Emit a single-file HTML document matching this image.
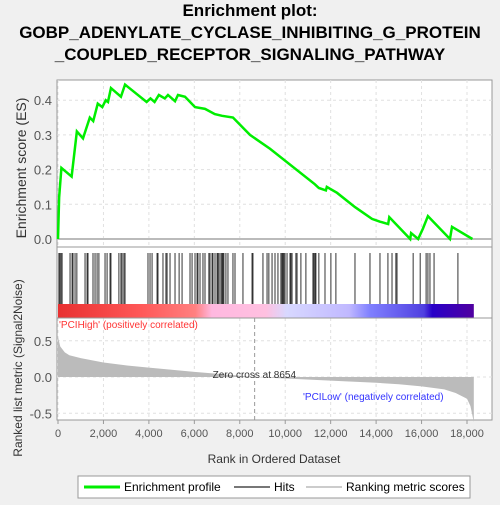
<!DOCTYPE html>
<html><head><meta charset="utf-8"><style>
body{margin:0;background:#f0f0f0;font-family:"Liberation Sans",sans-serif}
</style></head><body>
<svg width="500" height="500" xmlns="http://www.w3.org/2000/svg" font-family="Liberation Sans, sans-serif">
<rect width="500" height="500" fill="#f0f0f0"/>
<g font-weight="bold" font-size="17" text-anchor="middle" fill="#000">
<text x="250" y="16">Enrichment plot:</text>
<text x="250" y="38">GOBP_ADENYLATE_CYCLASE_INHIBITING_G_PROTEIN</text>
<text x="250" y="60">_COUPLED_RECEPTOR_SIGNALING_PATHWAY</text>
</g>
<rect x="57" y="80" width="435" height="340" fill="#fff" stroke="#999"/>
<g id="grid" stroke="#e0e0e0" stroke-dasharray="3,3"></g>
<g id="es"></g>
<line x1="57" y1="247" x2="492" y2="247" stroke="#999"/>
<g id="hits"></g>
<g id="bar"></g>
<line x1="57" y1="318" x2="492" y2="318" stroke="#999"/>
<g id="metric"></g>
<g id="axes" font-size="13" fill="#555"></g>
<text x="59" y="328" font-size="10" fill="#ff3333">'PCIHigh' (positively correlated)</text>
<text x="303" y="400" font-size="10" fill="#3333ff">'PCILow' (negatively correlated)</text>
<text x="26" y="168" font-size="14" fill="#333" text-anchor="middle" transform="rotate(-90 26 168)">Enrichment score (ES)</text>
<text x="22" y="368" font-size="12" fill="#333" text-anchor="middle" transform="rotate(-90 22 368)">Ranked list metric (Signal2Noise)</text>
<text x="274" y="463" font-size="12" fill="#333" text-anchor="middle">Rank in Ordered Dataset</text>
<g>
<rect x="78" y="476" width="392" height="22" fill="#fff" stroke="#999"/>
<line x1="84" y1="487" x2="120" y2="487" stroke="#00ee00" stroke-width="3"/>
<text x="124" y="491" font-size="12">Enrichment profile</text>
<line x1="234" y1="487" x2="270" y2="487" stroke="#777" stroke-width="2"/>
<text x="274" y="491" font-size="12">Hits</text>
<line x1="306" y1="487" x2="342" y2="487" stroke="#ccc" stroke-width="2"/>
<text x="346" y="491" font-size="12">Ranking metric scores</text>
</g>
</svg>
<script>
const esRanks=[0,50,150,600,830,1100,1400,1550,1750,1950,2100,2200,2330,2770,2950,3900,4070,4250,4440,4700,4840,5150,5280,5590,6030,6470,6900,7220,7700,8450,9330,11300,11480,11790,11830,12280,13070,13820,14170,14530,14580,15500,15540,15850,16060,16280,17250,17340,18240];
const esVals=[0,0.12,0.205,0.18,0.31,0.29,0.35,0.34,0.39,0.38,0.40,0.395,0.435,0.41,0.445,0.395,0.405,0.395,0.415,0.405,0.415,0.397,0.415,0.41,0.38,0.375,0.36,0.355,0.35,0.30,0.26,0.158,0.147,0.14,0.15,0.133,0.092,0.058,0.050,0.043,0.063,0.0,0.017,0.0,0.03,0.066,0.0,0.035,0.0];
const hitRanks=[40,80,130,180,530,620,660,750,830,1190,1280,1320,1540,1630,1720,1800,2070,2160,2290,2330,2680,2770,2820,2900,2950,3960,4050,4140,4360,4400,4620,4750,4800,4930,5150,5330,5460,5810,5900,6030,6120,6160,6250,6380,6470,6640,6690,6780,6820,6910,7000,7040,7090,7170,7220,7260,7300,7390,7480,7700,7790,8140,8540,8580,9020,9200,9280,9420,9550,9680,9810,9860,9900,9940,9990,10080,10210,10250,10300,10470,10520,10690,10910,11220,11260,11310,11350,11480,11750,12010,12230,13070,13730,14170,14520,14700,14870,14920,15630,15940,16200,16280,16370,16550,17600];
const metricRanks=[0,100,300,500,1000,2000,3000,4000,5000,6000,7000,8654,10000,12000,14000,15000,16000,17000,17500,18000,18150,18300];
const metricVals=[0.55,0.42,0.34,0.3,0.26,0.2,0.16,0.13,0.1,0.07,0.045,0,-0.02,-0.05,-0.08,-0.1,-0.13,-0.17,-0.22,-0.3,-0.4,-0.62];
const esTicks=[0,0.1,0.2,0.3,0.4];
const metricTicks=[0.5,0,-0.5];
const xTicks=[0,2000,4000,6000,8000,10000,12000,14000,16000,18000];
const NS='http://www.w3.org/2000/svg';
const X=r=>58+r*409/18000;
const YE=v=>239-v*347;
const YM=v=>377-v*72.5;
function mk(t,a,p){const e=document.createElementNS(NS,t);for(const k in a)e.setAttribute(k,a[k]);document.getElementById(p).appendChild(e);return e;}
xTicks.forEach(t=>{const l=mk('line',{x1:X(t),x2:X(t),y1:80,y2:247},'grid');
const l2=mk('line',{x1:X(t),x2:X(t),y1:318,y2:420},'grid');
const tx=mk('text',{x:X(t),y:437,'text-anchor':'middle','font-size':11},'axes');tx.textContent=t.toLocaleString('en-US');
mk('line',{x1:X(t),x2:X(t),y1:420,y2:424,stroke:'#999'},'axes');});
esTicks.forEach(t=>{const l=mk('line',{x1:57,x2:492,y1:YE(t),y2:YE(t)},'grid');
const tx=mk('text',{x:52,y:YE(t)+5,'text-anchor':'end'},'axes');tx.textContent=t.toFixed(1);});
metricTicks.forEach(t=>{const l=mk('line',{x1:57,x2:492,y1:YM(t),y2:YM(t)},'grid');
const tx=mk('text',{x:52,y:YM(t)+5,'text-anchor':'end'},'axes');tx.textContent=t.toFixed(1);});
mk('line',{x1:57,x2:492,y1:YE(0),y2:YE(0),stroke:'#bbb','stroke-width':2},'es');
const p=mk('polyline',{points:esRanks.map((r,i)=>X(r)+','+YE(esVals[i])).join(' '),fill:'none',stroke:'#00ee00','stroke-width':2.5},'es');

hitRanks.forEach(r=>{const l=mk('line',{x1:X(r),x2:X(r),y1:253,y2:304,stroke:'#333','stroke-width':1},'hits');});
const grad=mk('linearGradient',{id:'g'},'bar');
[['0','#e83030'],['0.2','#ff5858'],['0.33','#ff8080'],['0.37','#ffb8e0'],['0.5','#ffc0e0'],['0.55','#d8d8ff'],['0.7','#c0b8ff'],['0.75','#8080ff'],['0.88','#5040e0'],['0.9','#2800c8'],['1','#5000a0']].forEach(s=>mk('stop',{offset:s[0],'stop-color':s[1]},'g'));
const b=mk('rect',{x:58,y:304,width:X(18300)-58,height:14,fill:'url(#g)'},'bar');
const pts=[X(0)+','+YM(0)].concat(metricRanks.map((r,i)=>X(r)+','+YM(metricVals[i]))).concat([X(18300)+','+YM(0)]);
const a=mk('polygon',{points:pts.join(' '),fill:'#bbb'},'metric');
const z=mk('line',{x1:X(8654),x2:X(8654),y1:318,y2:420,stroke:'#999','stroke-dasharray':'4,3'},'metric');
const zt=mk('text',{x:X(8654)-42,y:378,'font-size':10,fill:'#333'},'metric');zt.textContent='Zero cross at 8654';
</script>
</body></html>
